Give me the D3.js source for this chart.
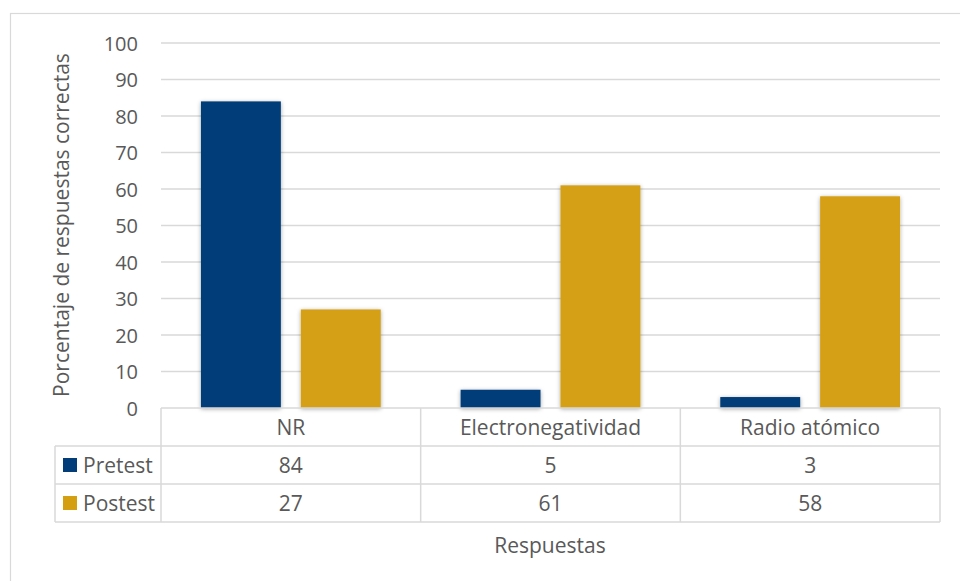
<!DOCTYPE html>
<html><head><meta charset="utf-8">
<script src="https://cdn.jsdelivr.net/npm/d3@7"></script>
<style>body{margin:0;background:#fff;} text{font-family:"Open Sans", Lato, sans-serif;fill:#595959;}</style>
</head><body>
<svg id="c" width="960" height="581"></svg>
<script>
const categories = ["NR", "Electronegatividad", "Radio atómico"];
const seriesNames = ["Pretest", "Postest"];
const pretest = [84, 5, 3];
const postest = [27, 61, 58];
const yTicks = [0, 10, 20, 30, 40, 50, 60, 70, 80, 90, 100];
const colors = ["#033d79", "#d59f12"];
const yTitle = "Porcentaje de respuestas correctas";
const xTitle = "Respuestas";

const svg = d3.select("#c");
const fs = 21, fsTick = 20;
const L = 161, R = 940, T = 43, B = 408;
const rowH = 38;

// outer frame
svg.append("rect").attr("x", 10.5).attr("y", 13.5).attr("width", 980).attr("height", 600)
  .attr("fill", "none").attr("stroke", "#d9d9d9").attr("stroke-width", 1.2);

const defs = svg.append("defs");
const f = defs.append("filter").attr("id", "sh").attr("x", "-20%").attr("y", "-20%").attr("width", "140%").attr("height", "140%");
f.append("feDropShadow").attr("dx", 0).attr("dy", 1).attr("stdDeviation", 2).attr("flood-color", "#000").attr("flood-opacity", 0.35);

const x0 = d3.scaleBand().domain(categories).range([L, R]).paddingInner(0).paddingOuter(0);
const x1 = d3.scaleBand().domain(seriesNames).range([0, x0.bandwidth()]).paddingInner(0.2).paddingOuter(0.4);
const y = d3.scaleLinear().domain([0, 100]).range([B, T]);

// gridlines
svg.append("g").selectAll("line").data(yTicks.filter(d => d > 0)).join("line")
  .attr("x1", L).attr("x2", R).attr("y1", d => y(d)).attr("y2", d => y(d))
  .attr("stroke", "#d9d9d9").attr("stroke-width", 1.3);

// y tick labels
const yAxis = d3.axisLeft(y).tickValues(yTicks).tickSize(0).tickPadding(0);
const ya = svg.append("g").attr("transform", `translate(138,0)`).call(yAxis);
ya.select(".domain").remove();
ya.selectAll("text").attr("font-size", fsTick).attr("font-family", "Open Sans").attr("fill", "#595959").attr("dy", "0.36em");

// bars
const series = [pretest, postest];
seriesNames.forEach((s, si) => {
  svg.append("g").attr("filter", "url(#sh)").selectAll("rect").data(categories).join("rect")
    .attr("x", c => x0(c) + x1(s))
    .attr("width", x1.bandwidth())
    .attr("y", (c, i) => y(series[si][i]))
    .attr("height", (c, i) => B - y(series[si][i]))
    .attr("fill", colors[si]);
});

// data table
const tg = svg.append("g").attr("stroke", "#d9d9d9").attr("stroke-width", 1.5);
const tableLeft = 55;
tg.append("line").attr("x1", L).attr("x2", R).attr("y1", B).attr("y2", B);
[1, 2, 3].forEach(k => {
  tg.append("line").attr("x1", tableLeft).attr("x2", R)
    .attr("y1", B + rowH * k).attr("y2", B + rowH * k);
});
tg.append("line").attr("x1", tableLeft).attr("x2", tableLeft).attr("y1", B + rowH).attr("y2", B + rowH * 3);
[L, ...categories.map(c => x0(c) + x0.bandwidth())].forEach(xv => {
  tg.append("line").attr("x1", xv).attr("x2", xv).attr("y1", B).attr("y2", B + rowH * 3);
});

// category labels
svg.append("g").selectAll("text").data(categories).join("text")
  .attr("x", c => x0(c) + x0.bandwidth() / 2).attr("y", B + rowH / 2).attr("dy", "0.36em")
  .attr("text-anchor", "middle").attr("font-size", fs).text(c => c);

// values + legend keys
seriesNames.forEach((s, si) => {
  const ry = B + rowH * (si + 1) + rowH / 2;
  svg.append("g").selectAll("text").data(categories).join("text")
    .attr("x", c => x0(c) + x0.bandwidth() / 2).attr("y", ry).attr("dy", "0.36em")
    .attr("text-anchor", "middle").attr("font-size", fs).text((c, i) => series[si][i]);
  svg.append("rect").attr("x", 63).attr("y", ry - 7).attr("width", 14).attr("height", 14).attr("fill", colors[si]);
  svg.append("text").attr("x", 83).attr("y", ry).attr("dy", "0.36em").attr("font-size", fs).text(s);
});

// axis titles
svg.append("text").attr("transform", `translate(69,225) rotate(-90)`).attr("text-anchor", "middle")
  .attr("font-size", fs).text(yTitle);
svg.append("text").attr("x", 550).attr("y", 545).attr("dy", "0.36em").attr("text-anchor", "middle")
  .attr("font-size", fs).text(xTitle);
</script>
</body></html>
